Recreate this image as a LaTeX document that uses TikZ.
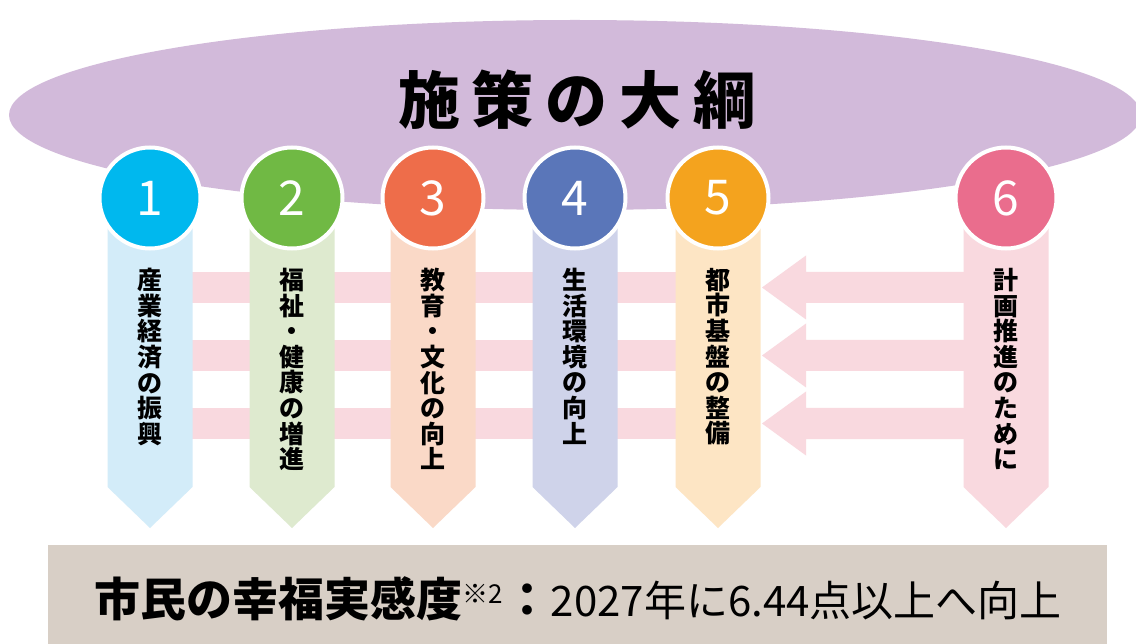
\documentclass[tikz,border=0pt]{standalone}
\usepackage{fontspec}
\setmainfont{Noto Sans CJK JP}
\usetikzlibrary{shapes.geometric}
\definecolor{ellc}{HTML}{D2BADA}
\definecolor{bandc}{HTML}{F9D9DF}
\definecolor{boxc}{HTML}{D8CFC6}
\definecolor{ca}{HTML}{00B8EE}\definecolor{fa}{HTML}{D3ECF9}
\definecolor{cb}{HTML}{70B944}\definecolor{fb}{HTML}{DEEACF}
\definecolor{cc}{HTML}{EE6D4A}\definecolor{fc}{HTML}{FAD9C7}
\definecolor{cd}{HTML}{5A76B9}\definecolor{fd}{HTML}{CFD3EA}
\definecolor{ce}{HTML}{F4A31E}\definecolor{fe}{HTML}{FDE5C4}
\definecolor{cf}{HTML}{EA6D8D}\definecolor{ff}{HTML}{F9D9DF}
\tikzset{
  numcircle/.style={circle, draw=white, line width=4pt, minimum size=101pt, inner sep=0pt,
    text=white, font=\fontsize{48}{48}\selectfont},
  coltext/.style={anchor=north, align=center, inner sep=0pt,
    font=\fontsize{25}{25.6}\selectfont\bfseries},
  bandfill/.style={fill=bandc},
}
\begin{document}
\begin{tikzpicture}[x=1pt,y=-1pt]
\useasboundingbox (0,0) rectangle (1136,644);
\fill[white] (0,0) rectangle (1136,644);
% big ellipse
\node[ellipse, fill=ellc, minimum width=1132pt, minimum height=190pt, inner sep=0pt] (ell) at (575,115) {};
\node[font=\fontsize{62}{62}\selectfont\bfseries] (title) at (577,100) {施\hspace{12pt}策\hspace{12pt}の\hspace{12pt}大\hspace{12pt}綱};
% bands between columns and arrows from column 6 to column 5
\foreach \y in {287.5,355.5,423.5}{
  \fill[bandfill] (150,\y-15.5) rectangle (720,\y+15.5);
  \fill[bandfill] (1006,\y-15.5) -- (806,\y-15.5) -- (806,\y-32) -- (762,\y)
     -- (806,\y+32) -- (806,\y+15.5) -- (1006,\y+15.5) -- cycle;
}
% pennants
\foreach \cx/\fc in {150/fa,292/fb,433/fc,575/fd,718/fe,1006/ff}{
  \fill[\fc] (\cx-42.5,225) -- (\cx+42.5,225) -- (\cx+42.5,487) -- (\cx,528) -- (\cx-42.5,487) -- cycle;
}
% circles
\node[numcircle, fill=ca] (n1) at (150,198) {1};
\node[numcircle, fill=cb] (n2) at (292,198) {2};
\node[numcircle, fill=cc] (n3) at (433,198) {3};
\node[numcircle, fill=cd] (n4) at (575,198) {4};
\node[numcircle, fill=ce] (n5) at (718,198) {5};
\node[numcircle, fill=cf] (n6) at (1006,198) {6};
% column texts
\node[coltext] (t1) at (150,268) {産\\業\\経\\済\\の\\振\\興};
\node[coltext] (t2) at (292,268) {福\\祉\\・\\健\\康\\の\\増\\進};
\node[coltext] (t3) at (433,268) {教\\育\\・\\文\\化\\の\\向\\上};
\node[coltext] (t4) at (575,268) {生\\活\\環\\境\\の\\向\\上};
\node[coltext] (t5) at (718,268) {都\\市\\基\\盤\\の\\整\\備};
\node[coltext] (t6) at (1006,268) {計\\画\\推\\進\\の\\た\\め\\に};
% bottom box
\fill[boxc] (48,545) rectangle (1107,650);
\node[inner sep=0pt] (goal) at (578,599) {\fontsize{46}{50}\selectfont\bfseries 市民の幸福実感度\raisebox{13pt}{\mdseries\fontsize{26}{26}\selectfont ※2}\hspace{2pt}：\mdseries\fontsize{42}{50}\selectfont 2027年に6.44点以上へ向上};
\end{tikzpicture}
\end{document}
